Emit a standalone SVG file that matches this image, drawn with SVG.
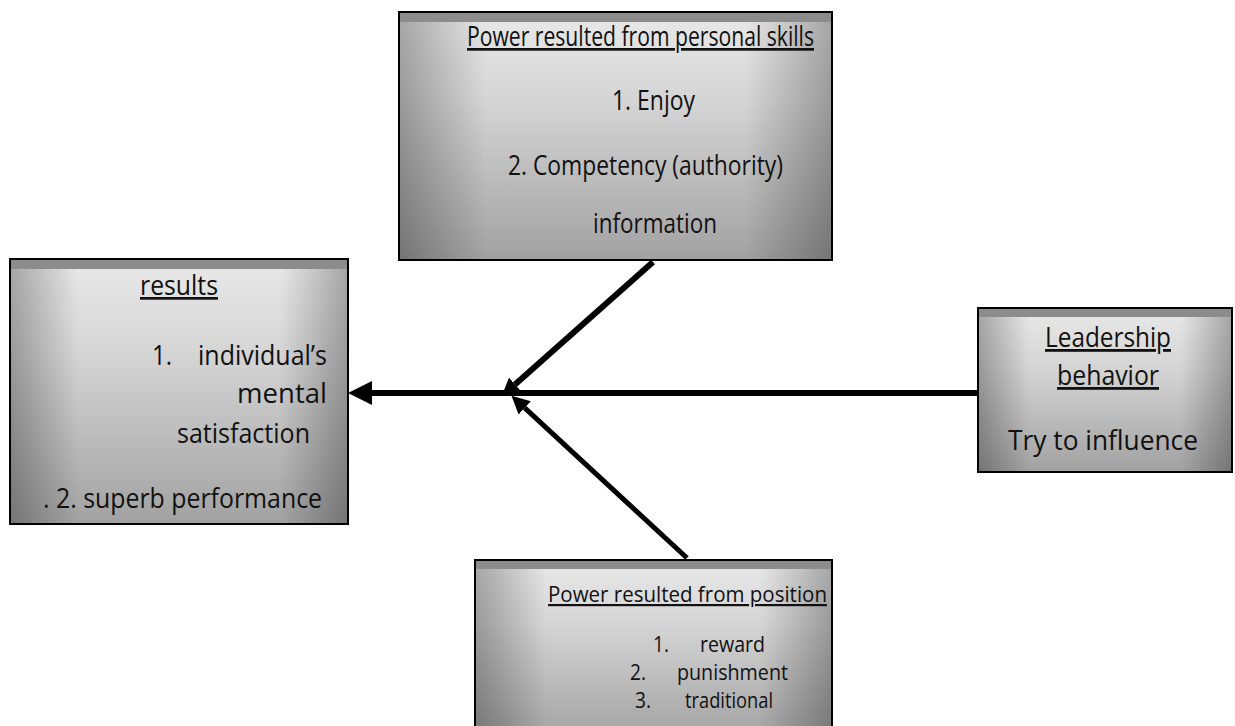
<svg xmlns="http://www.w3.org/2000/svg" width="1235" height="726" viewBox="0 0 1235 726">
<style>
.box{stroke:#000;stroke-width:2;fill:url(#vert)}
.shade{fill:url(#horz)}
.band{fill:#8c8c8c}
.t{font-family:"Open Sans","Liberation Sans",sans-serif;fill:#111}
.u{text-decoration:underline}
.line{stroke:#000;fill:none}
</style>
<defs>
<linearGradient id="vert" x1="0" y1="0" x2="0" y2="1">
<stop offset="0" stop-color="#f0f0f0"/>
<stop offset="0.35" stop-color="#dcdcdc"/>
<stop offset="1" stop-color="#a6a6a6"/>
</linearGradient>
<linearGradient id="horz" x1="0" y1="0" x2="1" y2="0">
<stop offset="0" stop-color="#000" stop-opacity="0.3"/>
<stop offset="0.2" stop-color="#000" stop-opacity="0.03"/>
<stop offset="0.8" stop-color="#000" stop-opacity="0.03"/>
<stop offset="1" stop-color="#000" stop-opacity="0.3"/>
</linearGradient>
<marker id="bigHead" markerUnits="userSpaceOnUse" markerWidth="24" markerHeight="24" refX="0" refY="11" orient="auto" viewBox="0 0 22 22">
<path d="M0,0 L22,11 L0,22 z" fill="#000"/>
</marker>
<marker id="smallHead" markerUnits="userSpaceOnUse" markerWidth="18" markerHeight="18" refX="0" refY="8" orient="auto" viewBox="0 0 16 16">
<path d="M0,0 L16,8 L0,16 z" fill="#000"/>
</marker>
</defs>
<rect width="1235" height="726" fill="#fff"/>

<g id="connectors">
<line class="line" x1="978" y1="393" x2="372" y2="393" stroke-width="6" marker-end="url(#bigHead)"/>
<line class="line" x1="653" y1="262" x2="515" y2="384.4" stroke-width="6" marker-end="url(#smallHead)"/>
<line class="line" x1="687" y1="558" x2="524.7" y2="407.9" stroke-width="5" marker-end="url(#smallHead)"/>
</g>

<g id="node-personal">
<rect class="box" x="399" y="12" width="433" height="248"/>
<rect class="shade" x="400" y="13" width="431" height="246"/>
<rect class="band" x="400" y="13" width="431" height="9"/>
<text class="t u" x="467" y="46" font-size="27" textLength="347" lengthAdjust="spacingAndGlyphs">Power resulted from  personal skills</text>
<text class="t" x="612" y="110" font-size="27" textLength="83" lengthAdjust="spacingAndGlyphs">1. Enjoy</text>
<text class="t" x="508" y="175" font-size="27" textLength="275" lengthAdjust="spacingAndGlyphs">2. Competency (authority)</text>
<text class="t" x="593" y="233" font-size="27" textLength="124" lengthAdjust="spacingAndGlyphs">information</text>
</g>

<g id="node-results">
<rect class="box" x="10" y="259" width="338" height="265"/>
<rect class="shade" x="11" y="260" width="336" height="263"/>
<rect class="band" x="11" y="260" width="336" height="9"/>
<text class="t u" x="140" y="295" font-size="27" textLength="78" lengthAdjust="spacingAndGlyphs">results</text>
<text class="t" x="152" y="365" font-size="27" textLength="20" lengthAdjust="spacingAndGlyphs">1.</text>
<text class="t" x="198" y="365" font-size="27" textLength="129" lengthAdjust="spacingAndGlyphs">individual’s</text>
<text class="t" x="237" y="403" font-size="27" textLength="90" lengthAdjust="spacingAndGlyphs">mental</text>
<text class="t" x="177" y="443" font-size="27" textLength="133" lengthAdjust="spacingAndGlyphs">satisfaction</text>
<text class="t" x="43" y="508" font-size="27" textLength="279" lengthAdjust="spacingAndGlyphs">. 2. superb performance</text>
</g>

<g id="node-leadership">
<rect class="box" x="978" y="308" width="254" height="164"/>
<rect class="shade" x="979" y="309" width="252" height="162"/>
<rect class="band" x="979" y="309" width="252" height="8"/>
<text class="t u" x="1045" y="347" font-size="28" textLength="126" lengthAdjust="spacingAndGlyphs">Leadership</text>
<text class="t u" x="1057" y="385" font-size="28" textLength="102" lengthAdjust="spacingAndGlyphs">behavior</text>
<text class="t" x="1008" y="450" font-size="28" textLength="190" lengthAdjust="spacingAndGlyphs">Try to influence</text>
</g>

<g id="node-position">
<rect class="box" x="475" y="560" width="357" height="180"/>
<rect class="shade" x="476" y="561" width="355" height="178"/>
<rect class="band" x="476" y="561" width="355" height="8"/>
<text class="t u" x="548" y="602" font-size="22" textLength="279" lengthAdjust="spacingAndGlyphs">Power resulted from position</text>
<text class="t" x="653" y="652" font-size="22" textLength="16" lengthAdjust="spacingAndGlyphs">1.</text>
<text class="t" x="700" y="652" font-size="22" textLength="65" lengthAdjust="spacingAndGlyphs">reward</text>
<text class="t" x="630" y="680" font-size="22" textLength="16" lengthAdjust="spacingAndGlyphs">2.</text>
<text class="t" x="677" y="680" font-size="22" textLength="111" lengthAdjust="spacingAndGlyphs">punishment</text>
<text class="t" x="635" y="708" font-size="22" textLength="16" lengthAdjust="spacingAndGlyphs">3.</text>
<text class="t" x="685" y="708" font-size="22" textLength="88" lengthAdjust="spacingAndGlyphs">traditional</text>
</g>
</svg>
